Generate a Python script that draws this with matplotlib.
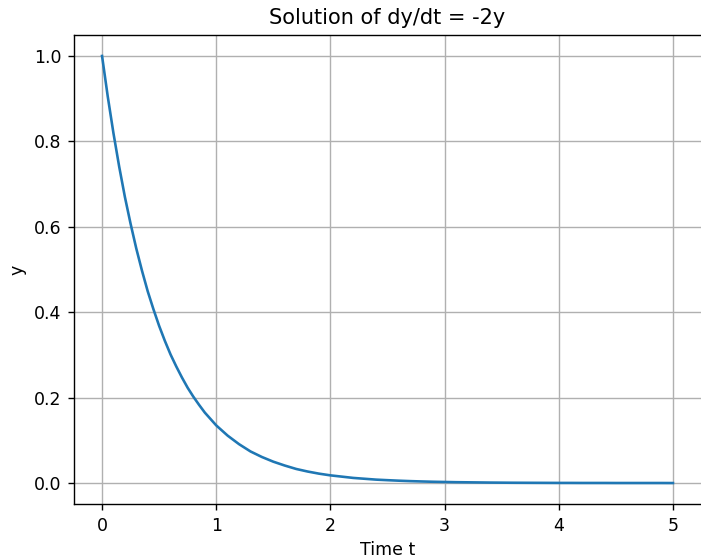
import matplotlib
matplotlib.use("Agg")
import matplotlib.pyplot as plt

# Values (finer steps where it is steep)
t_values = [0.00, 0.05, 0.10, 0.15, 0.20, 0.25, 0.30, 0.35, 0.40, 0.45,
            0.50, 0.55, 0.60, 0.65, 0.70, 0.75, 0.80, 0.85, 0.90, 0.95,
            1.0, 1.1, 1.2, 1.3, 1.4, 1.5, 1.6, 1.7, 1.8, 1.9,
            2.0, 2.1, 2.2, 2.3, 2.4, 2.5, 2.6, 2.7, 2.8, 2.9,
            3.0, 3.1, 3.2, 3.3, 3.4, 3.5, 3.6, 3.7, 3.8, 3.9,
            4.0, 4.1, 4.2, 4.3, 4.4, 4.5, 4.6, 4.7, 4.8, 4.9, 5.0]
y_values = [1.000, 0.905, 0.819, 0.741, 0.670, 0.607, 0.549, 0.497, 0.449, 0.407,
            0.368, 0.333, 0.301, 0.273, 0.247, 0.223, 0.202, 0.183, 0.165, 0.150,
            0.135, 0.111, 0.091, 0.074, 0.061, 0.050, 0.041, 0.033, 0.027, 0.022,
            0.018, 0.015, 0.012, 0.010, 0.008, 0.0067, 0.0055, 0.0045, 0.0037, 0.0030,
            0.0025, 0.0020, 0.0017, 0.0014, 0.0011, 0.0009, 0.0007, 0.0006, 0.0005, 0.0004,
            0.0003, 0.0003, 0.0002, 0.0002, 0.0002, 0.0001, 0.0001, 0.0001, 0.0001, 0.0001, 0.0000]

s = 1.25
plt.rcParams.update({
    "font.size": 10 * s,
    "axes.linewidth": 0.8 * s,
    "grid.linewidth": 0.8 * s,
    "xtick.major.width": 0.8 * s,
    "ytick.major.width": 0.8 * s,
    "xtick.major.size": 3.5 * s,
    "ytick.major.size": 3.5 * s,
    "xtick.major.pad": 3.5 * s,
    "ytick.major.pad": 3.5 * s,
    "axes.titlepad": 6.0 * s,
    "axes.labelpad": 4.0 * s,
})

fig = plt.figure(figsize=(7.01, 5.57), dpi=100)
W, H = 701, 557
ax = fig.add_axes([73.5 / W, 1 - 504.4 / H, 628 / W, 469.8 / H])
ax.plot(t_values, y_values, color="#1f77b4", linewidth=1.5 * s)
ax.set_title("Solution of dy/dt = -2y")
ax.set_xlabel("Time t")
ax.set_ylabel("y")
ax.grid(True)
fig.savefig("out.png", dpi=100)
